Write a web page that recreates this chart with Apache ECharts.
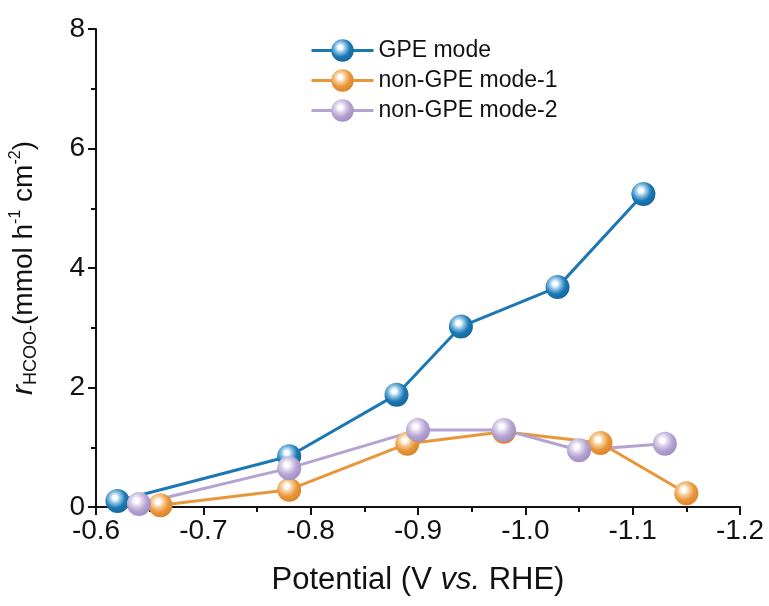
<!DOCTYPE html>
<html>
<head>
<meta charset="utf-8">
<script src="https://cdn.jsdelivr.net/npm/echarts@6/dist/echarts.min.js"></script>
<style>
  html, body { margin: 0; padding: 0; background: #fff; }
  #chart { width: 769px; height: 606px; }
</style>
</head>
<body>
<div id="chart"></div>
<script>
// Formate production rate vs. applied potential
const seriesNames = ['GPE mode', 'non-GPE mode-1', 'non-GPE mode-2'];

const gpePotential = [-0.62, -0.78, -0.88, -0.94, -1.03, -1.11];
const gpeRate      = [0.10, 0.85, 1.88, 3.02, 3.68, 5.24];

const nonGpe1Potential = [-0.66, -0.78, -0.89, -0.98, -1.07, -1.15];
const nonGpe1Rate      = [0.03, 0.29, 1.06, 1.26, 1.07, 0.23];

const nonGpe2Potential = [-0.64, -0.78, -0.90, -0.98, -1.05, -1.13];
const nonGpe2Rate      = [0.05, 0.65, 1.29, 1.29, 0.95, 1.06];

const xTickValues = [-0.6, -0.7, -0.8, -0.9, -1.0, -1.1, -1.2];
const yTickValues = [0, 2, 4, 6, 8];

const colors = ['#1b78b4', '#e9963a', '#b4a2d1'];
const tints  = ['#8fc3e6', '#f6cd98', '#ddd3ec'];
const shades = ['#146394', '#d47f22', '#9d89bd'];

function pairs(xs, ys) { return xs.map((x, i) => [x, ys[i]]); }

// glossy ball fill: white highlight at upper left fading into the base colour
function sphere(i) {
  return {
    type: 'radial', x: 0.4, y: 0.36, r: 0.72,
    colorStops: [
      { offset: 0, color: '#ffffff' },
      { offset: 0.12, color: '#ffffff' },
      { offset: 0.32, color: tints[i] },
      { offset: 0.6, color: colors[i] },
      { offset: 1, color: shades[i] }
    ]
  };
}

const font = 'Liberation Sans, Arial, sans-serif';
const chart = echarts.init(document.getElementById('chart'));

function makeSeries(i, xs, ys) {
  return {
    name: seriesNames[i],
    type: 'line',
    data: pairs(xs, ys),
    symbol: 'circle',
    symbolSize: 24,
    lineStyle: { color: colors[i], width: 3 },
    itemStyle: { color: sphere(i), borderWidth: 0 },
    emphasis: { disabled: true },
    z: 3
  };
}

chart.setOption({
  backgroundColor: '#fff',
  animation: false,
  grid: { left: 89, right: 29, top: 29, bottom: 99 },
  legend: {
    orient: 'vertical',
    left: 305,
    top: 34,
    itemWidth: 62,
    itemHeight: 28,
    itemGap: 7,
    textStyle: { fontFamily: font, fontSize: 23, color: '#111' },
    data: seriesNames.map((n, i) => ({
      name: n,
      itemStyle: { color: sphere(i) },
      lineStyle: { color: colors[i], width: 3 }
    }))
  },
  xAxis: {
    type: 'value',
    min: -1.2,
    max: -0.6,
    interval: 0.1,
    inverse: true,
    name: 'Potential (V {i|vs.} RHE)',
    nameLocation: 'middle',
    nameGap: 58,
    nameTextStyle: {
      fontFamily: font, fontSize: 31, color: '#111',
      rich: { i: { fontFamily: font, fontSize: 31, fontStyle: 'italic', color: '#111' } }
    },
    axisLine: { show: true, lineStyle: { color: '#111', width: 2 } },
    axisTick: { show: true, inside: false, length: 8, lineStyle: { color: '#111', width: 2 } },
    minorTick: { show: true, splitNumber: 2, length: 5, lineStyle: { color: '#111', width: 2 } },
    splitLine: { show: false },
    axisLabel: {
      fontFamily: font, fontSize: 28, color: '#111', margin: 10,
      formatter: v => {
        const t = xTickValues.find(k => Math.abs(k - v) < 1e-6);
        return t === undefined ? '' : t.toFixed(1);
      }
    }
  },
  yAxis: {
    type: 'value',
    min: 0,
    max: 8,
    interval: 2,
    name: '{r|r}{s|HCOO-}(mmol h{p|-1} cm{p|-2})',
    nameLocation: 'middle',
    nameRotate: 90,
    nameGap: 56,
    nameTextStyle: {
      fontFamily: font, fontSize: 28, color: '#111',
      rich: {
        r: { fontFamily: font, fontSize: 30, fontStyle: 'italic', color: '#111' },
        s: { fontFamily: font, fontSize: 18, color: '#111', verticalAlign: 'bottom', padding: [14, 0, 0, 0] },
        p: { fontFamily: font, fontSize: 16, color: '#111', verticalAlign: 'top', padding: [0, 0, 14, 0] }
      }
    },
    axisLine: { show: true, lineStyle: { color: '#111', width: 2 } },
    axisTick: { show: true, inside: false, length: 8, lineStyle: { color: '#111', width: 2 } },
    minorTick: { show: true, splitNumber: 2, length: 5, lineStyle: { color: '#111', width: 2 } },
    splitLine: { show: false },
    axisLabel: {
      fontFamily: font, fontSize: 28, color: '#111', margin: 11,
      formatter: v => (yTickValues.includes(v) ? String(v) : '')
    }
  },
  series: [
    makeSeries(0, gpePotential, gpeRate),
    makeSeries(1, nonGpe1Potential, nonGpe1Rate),
    makeSeries(2, nonGpe2Potential, nonGpe2Rate)
  ]
});
</script>
</body>
</html>
